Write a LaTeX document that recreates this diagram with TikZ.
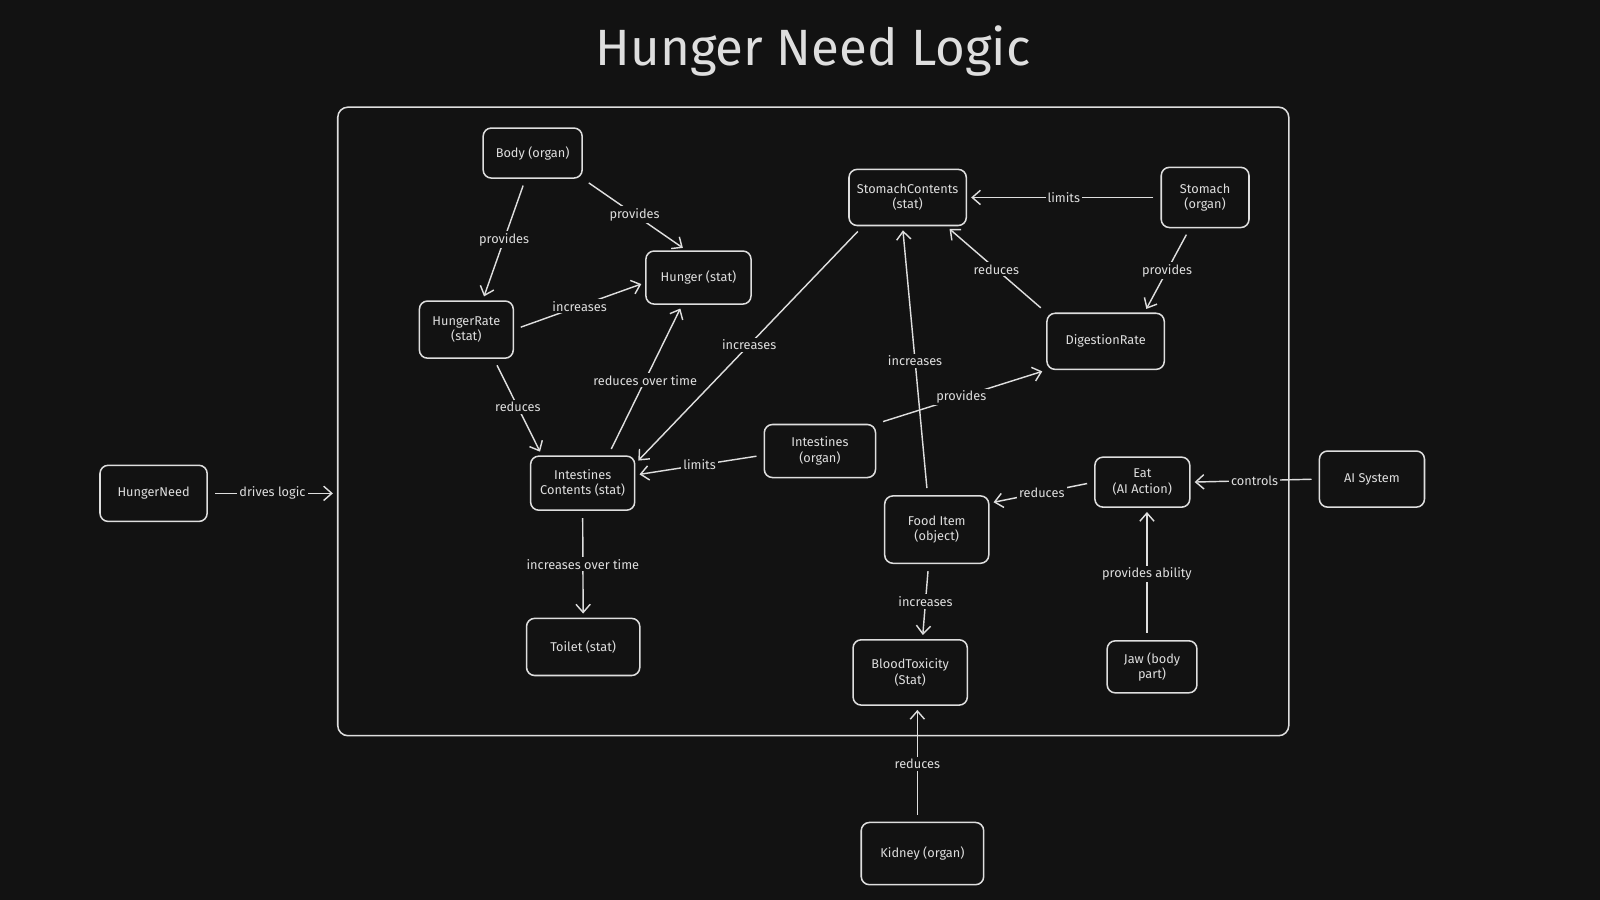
\documentclass[tikz,border=0pt]{standalone}
\usepackage{fontspec}
\setmainfont{Fira Sans}
\usetikzlibrary{arrows.meta}
\definecolor{bg}{HTML}{121212}
\definecolor{ink}{HTML}{DEDEDE}
\begin{document}
\begin{tikzpicture}[x=1pt,y=-1pt,
	box/.style={draw=ink, line width=1.5pt, rounded corners=8pt, fill=bg, text=ink, align=center, inner sep=0pt, font=\fontsize{12.5}{15}\selectfont},
	arr/.style={draw=ink, line width=1.4pt, -{Straight Barb[length=8pt,width=14pt]}, shorten <=7pt, shorten >=4pt},
	lbl/.style={fill=bg, text=ink, inner sep=2pt, font=\fontsize{12.5}{14}\selectfont}]
	\useasboundingbox[fill=bg] (0,0) rectangle (1568,882);
	\node[text=ink, font=\fontsize{50}{56}\selectfont] (title) at (797,50) {Hunger Need Logic};
	\node[box, rounded corners=10pt, minimum width=932, minimum height=616, fill=none] (frame) at (797,413) {};
	% boxes
	\node[box, minimum width=105, minimum height=55] (hneed) at (150.5,483.5) {HungerNeed};
	\node[box, minimum width=97, minimum height=49] (body) at (522,150) {Body (organ)};
	\node[box, minimum width=103, minimum height=52] (hunger) at (684.5,272) {Hunger (stat)};
	\node[box, minimum width=92, minimum height=56] (hrate) at (457,323) {HungerRate\\(stat)};
	\node[box, minimum width=115, minimum height=55] (stc) at (889.5,193.5) {StomachContents\\(stat)};
	\node[box, minimum width=86, minimum height=59] (stomach) at (1181,193.5) {Stomach\\(organ)};
	\node[box, minimum width=115, minimum height=55] (dig) at (1083.5,334.5) {DigestionRate};
	\node[box, minimum width=109, minimum height=52] (intest) at (803.5,442) {Intestines\\(organ)};
	\node[box, minimum width=102, minimum height=53] (intc) at (571,473.5) {Intestines\\Contents (stat)};
	\node[box, minimum width=93, minimum height=49] (eat) at (1119.5,472.5) {Eat\\(AI Action)};
	\node[box, minimum width=103, minimum height=55] (ais) at (1344.5,469.5) {AI System};
	\node[box, minimum width=102, minimum height=66] (food) at (918,519) {Food Item\\(object)};
	\node[box, minimum width=111, minimum height=56] (toilet) at (571.5,634) {Toilet (stat)};
	\node[box, minimum width=112, minimum height=64] (blood) at (892,659) {BloodToxicity\\(Stat)};
	\node[box, minimum width=88, minimum height=51] (jaw) at (1129,653.5) {Jaw (body\\part)};
	\node[box, minimum width=120, minimum height=61] (kidney) at (904,836.5) {Kidney (organ)};
	% connectors
	\draw[arr] ([xshift=-7]body.south) -- node[lbl]{provides} ([xshift=16]hrate.north);
	\draw[arr] (body.south east) -- node[lbl]{provides} ([xshift=-12]hunger.north);
	\draw[arr] (hrate.east) -- node[lbl]{increases} ([yshift=-5]hunger.west);
	\draw[arr] ([xshift=27]hrate.south) -- node[lbl]{reduces} ([xshift=-40]intc.north);
	\draw[arr] ([xshift=25]intc.north) -- node[lbl]{reduces over time} ([xshift=-16]hunger.south);
	\draw[arr] ([xshift=-44]stc.south) -- node[lbl]{increases} ([yshift=-8]intc.north east);
	\draw[arr] ([yshift=-4]intest.west) -- node[lbl]{limits} ([yshift=8]intc.east);
	\draw[arr] (intc.south) -- node[lbl]{increases over time} (toilet.north);
	\draw[arr] (stomach.west) -- node[lbl]{limits} (stc.east);
	\draw[arr] ([xshift=-15]stomach.south) -- node[lbl]{provides} ([xshift=38]dig.north);
	\draw[arr] (dig.north west) -- node[lbl]{reduces} ([xshift=38]stc.south);
	\draw[arr] ([xshift=-9]food.north) -- node[lbl]{increases} ([xshift=-5]stc.south);
	\draw[arr] (intest.north east) -- node[lbl]{provides} (dig.south west);
	\draw[arr] (eat.west) -- node[lbl]{reduces} ([yshift=26]food.east);
	\draw[arr] (ais.west) -- node[lbl]{controls} (eat.east);
	\draw[arr] ([xshift=-5]jaw.north) -- node[lbl]{provides ability} ([xshift=-5]jaw.north |- eat.south);
	\draw[arr] ([xshift=-8]food.south) -- node[lbl]{increases} ([xshift=12]blood.north);
	\draw[arr] ([xshift=-5]kidney.north) -- node[lbl]{reduces} ([xshift=-5]kidney.north |- blood.south);
	\draw[arr] (hneed.east) -- node[lbl]{drives logic} (hneed.east -| frame.west);
\end{tikzpicture}
\end{document}
